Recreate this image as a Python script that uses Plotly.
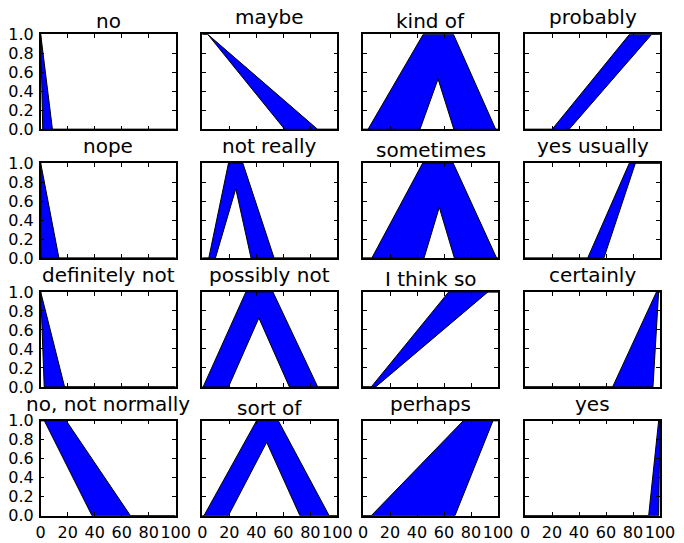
import plotly.graph_objects as go

W, H = 684, 543

titles = ["no", "maybe", "kind of", "probably",
          "nope", "not really", "sometimes", "yes usually",
          "definitely not", "possibly not", "I think so", "certainly",
          "no, not normally", "sort of", "perhaps", "yes"]

upper_x = [[0, 8.7, 100], [0, 4, 85.4, 100], [0, 3.7, 44.6, 67, 98.3, 100], [0, 20.1, 77.4, 100],
           [0, 13.5, 100], [0, 4.8, 19.4, 30, 53.2, 100], [0, 6.5, 44.2, 66.8, 99, 100], [0, 46.4, 77.3, 100],
           [0, 17.7, 100], [0, 0.6, 32.3, 52.3, 85.5, 100], [0, 6.1, 63.5, 100], [0, 64.9, 97.4, 100],
           [0, 18.9, 66.5, 100], [0, 1.2, 40.2, 56.3, 94, 100], [0, 6.1, 74.3, 100], [0, 91.6, 99, 100]]
upper_y = [[1, 0, 0], [1, 1, 0, 0], [0, 0, 1, 1, 0, 0], [0, 0, 1, 1],
           [1, 0, 0], [0, 0, 1, 1, 0, 0], [0, 0, 1, 1, 0, 0], [0, 0, 1, 1],
           [1, 0, 0], [0, 0, 1, 1, 0, 0], [0, 0, 1, 1], [0, 0, 1, 1],
           [1, 1, 0, 0], [0, 0, 1, 1, 0, 0], [0, 0, 1, 1], [0, 0, 1, 1]]
lower_x = [[0, 1.5, 100], [0, 4, 61, 100], [0, 42.2, 55.6, 67.3, 100], [0, 32.7, 93.9, 100],
           [0, 0.5, 100], [0, 9.7, 24.8, 36.1, 100], [0, 45.2, 56.5, 67.7, 100], [0, 58.4, 81.8, 100],
           [0, 2.6, 100], [0, 19.4, 41.9, 64.5, 100], [0, 9.4, 92.6, 100], [0, 94.8, 99, 100],
           [0, 2.7, 38, 100], [0, 19.3, 47.7, 72.3, 100], [0, 68.1, 96.3, 100], [0, 99, 100]]
lower_y = [[1, 0, 0], [1, 1, 0, 0], [0, 0, 0.53, 0, 0], [0, 0, 1, 1],
           [1, 0, 0], [0, 0, 0.73, 0, 0], [0, 0, 0.535, 0, 0], [0, 0, 1, 1],
           [1, 0, 0], [0, 0, 0.726, 0, 0], [0, 0, 1, 1], [0, 0, 1, 1],
           [1, 1, 0, 0], [0, 0, 0.773, 0, 0], [0, 0, 1, 1], [0, 0, 1]]

x_ticks = [0, 20, 40, 60, 80, 100]
y_ticks = [0.0, 0.2, 0.4, 0.6, 0.8, 1.0]

col_left = [40.7, 202.3, 363.0, 525.0]
ax_w = 135.0
row_top = [34.3, 163.1, 291.9, 420.7]
ax_h = 95.0

FONT = "DejaVu Sans"
fig = go.Figure()
layout = dict(width=W, height=H, margin=dict(l=0, r=0, t=0, b=0, autoexpand=False),
              paper_bgcolor="white", plot_bgcolor="white", showlegend=False)
annotations = []
for i, t in enumerate(titles):
    r, c = divmod(i, 4)
    n = i + 1
    xa = "xaxis" if n == 1 else f"xaxis{n}"
    ya = "yaxis" if n == 1 else f"yaxis{n}"
    xr = "x" if n == 1 else f"x{n}"
    yr = "y" if n == 1 else f"y{n}"
    px = upper_x[i] + lower_x[i][::-1]
    py = upper_y[i] + lower_y[i][::-1]
    fig.add_trace(go.Scatter(x=px, y=py, mode="lines", fill="toself",
                             fillcolor="#0000ff", line=dict(color="black", width=1),
                             xaxis=xr, yaxis=yr, hoverinfo="skip"))
    x0 = col_left[c] / W
    x1 = (col_left[c] + ax_w) / W
    y1 = 1 - row_top[r] / H
    y0 = 1 - (row_top[r] + ax_h) / H
    layout[xa] = dict(domain=[x0, x1], range=[0, 100], anchor=yr, automargin=False,
                      tickmode="array", tickvals=x_ticks, tickangle=0,
                      ticktext=[str(v) for v in x_ticks] if r == 3 else [""] * 6,
                      showticklabels=(r == 3), ticklabelstandoff=1,
                      ticks="inside", ticklen=4, tickcolor="black", tickwidth=1,
                      showline=True, linecolor="black", linewidth=1.5, mirror="ticks",
                      showgrid=False, zeroline=False,
                      tickfont=dict(family=FONT, size=16, color="black"))
    layout[ya] = dict(domain=[y0, y1], range=[0, 1], anchor=xr, automargin=False,
                      tickmode="array", tickvals=y_ticks,
                      ticktext=[f"{v:.1f}" for v in y_ticks] if c == 0 else [""] * 6,
                      showticklabels=(c == 0), ticklabelstandoff=2,
                      ticks="inside", ticklen=4, tickcolor="black", tickwidth=1,
                      showline=True, linecolor="black", linewidth=1.5, mirror="ticks",
                      showgrid=False, zeroline=False,
                      tickfont=dict(family=FONT, size=16, color="black"))
    has_desc = any(ch in t for ch in "pyqgj,")
    shift = 4 if has_desc else 0
    annotations.append(dict(text=t, x=(x0 + x1) / 2, y=y1, xref="paper", yref="paper",
                            xanchor="center", yanchor="bottom", showarrow=False,
                            yshift=shift, borderpad=0,
                            font=dict(family=FONT, size=20, color="black")))
layout["annotations"] = annotations
fig.update_layout(**layout)
fig.write_html("out.html")
